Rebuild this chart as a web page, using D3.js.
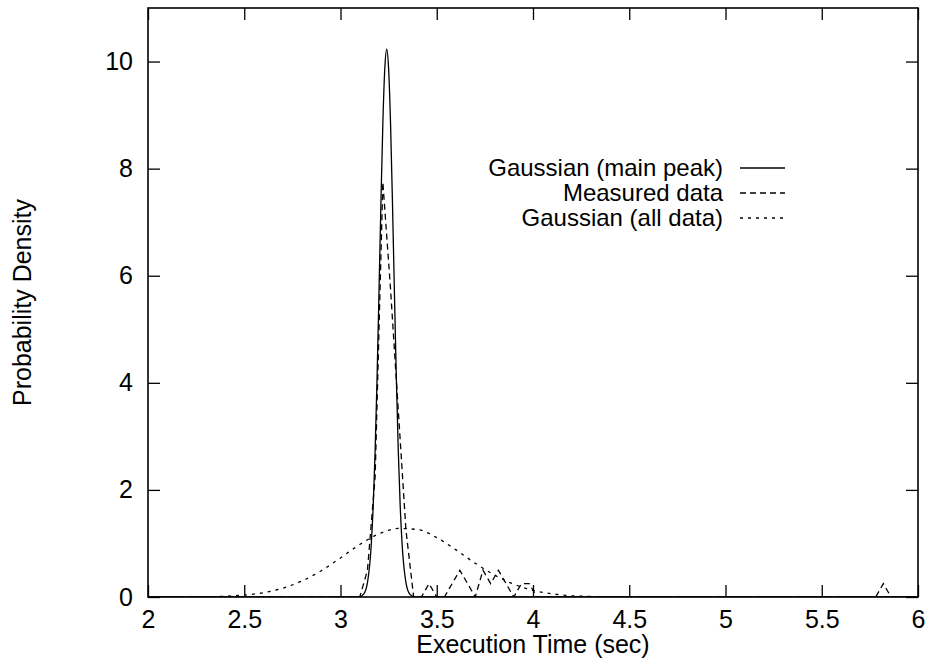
<!DOCTYPE html>
<html>
<head>
<meta charset="utf-8">
<script src="https://cdn.jsdelivr.net/npm/d3@7"></script>
<style>
  body { margin: 0; background: #fff; }
  text { font-family: "Liberation Sans", Arial, sans-serif; }
</style>
</head>
<body>
<div id="chart"></div>
<script>
// values
var xTicks = [2, 2.5, 3, 3.5, 4, 4.5, 5, 5.5, 6];
var yTicks = [0, 2, 4, 6, 8, 10];
var seriesNames = ["Gaussian (main peak)", "Measured data", "Gaussian (all data)"];

var mainPeakX = [2, 3.06, 3.08, 3.10, 3.12, 3.14, 3.16, 3.17, 3.18, 3.19, 3.20, 3.21, 3.22, 3.23, 3.24,
  3.25, 3.26, 3.27, 3.28, 3.29, 3.30, 3.31, 3.32, 3.34, 3.36, 3.38, 3.40, 3.42, 6];
var mainPeakY = [0, 0, 0.001, 0.008, 0.053, 0.27, 0.99, 1.71, 2.75, 4.1, 5.7, 7.36, 8.84, 9.86, 10.23,
  9.86, 8.84, 7.36, 5.7, 4.1, 2.75, 1.71, 0.99, 0.27, 0.053, 0.008, 0.001, 0, 0];

var measuredX = [2, 3.10, 3.14, 3.18, 3.22, 3.26, 3.30, 3.34, 3.38, 3.42, 3.46, 3.50, 3.54, 3.58, 3.62,
  3.66, 3.70, 3.74, 3.78, 3.82, 3.86, 3.90, 3.94, 3.98, 4.02, 5.78, 5.82, 5.86, 6];
var measuredY = [0, 0, 0.5, 2.25, 7.75, 5.75, 3.5, 1.25, 0, 0, 0.25, 0, 0, 0.25, 0.5,
  0.25, 0, 0.5, 0.25, 0.5, 0.25, 0, 0.25, 0.25, 0, 0, 0.25, 0, 0];

var allDataX = [2, 2.2, 2.4, 2.5, 2.6, 2.7, 2.8, 2.9, 3.0, 3.1, 3.2, 3.3, 3.4, 3.5, 3.6, 3.7, 3.8,
  3.9, 4.0, 4.1, 4.2, 4.3, 4.4, 4.6, 6];
var allDataY = [0.0001, 0.002, 0.014, 0.036, 0.081, 0.164, 0.30, 0.49, 0.73, 0.98, 1.18, 1.28, 1.26,
  1.11, 0.88, 0.63, 0.41, 0.24, 0.125, 0.059, 0.025, 0.009, 0.003, 0.0002, 0];

var svgWidth = 927,
  svgHeight = 660,
  plotLeft = 148,
  plotRight = 918,
  plotTop = 8,
  plotBottom = 597,
  tickLen = 12,
  fontSize = 25,
  legendFontSize = 24;

var svg = d3.select("#chart")
  .append("svg")
  .attr("width", svgWidth)
  .attr("height", svgHeight);

var x = d3.scaleLinear().domain([2, 6]).range([plotLeft, plotRight]);
var y = d3.scaleLinear().domain([0, 11]).range([plotBottom, plotTop]);

svg.append("clipPath")
  .attr("id", "plotClip")
  .append("rect")
  .attr("x", plotLeft)
  .attr("y", plotTop)
  .attr("width", plotRight - plotLeft)
  .attr("height", plotBottom - plotTop);

// axes, ticks point inwards on all four sides
var bottomAxis = svg.append("g")
  .attr("transform", "translate(0," + plotBottom + ")")
  .call(d3.axisBottom(x).tickValues(xTicks).tickSize(-tickLen).tickPadding(13).tickFormat(d3.format("")));
var leftAxis = svg.append("g")
  .attr("transform", "translate(" + plotLeft + ",0)")
  .call(d3.axisLeft(y).tickValues(yTicks).tickSize(-tickLen).tickPadding(15));
var topAxis = svg.append("g")
  .attr("transform", "translate(0," + plotTop + ")")
  .call(d3.axisTop(x).tickValues(xTicks).tickSize(-tickLen).tickFormat(""));
var rightAxis = svg.append("g")
  .attr("transform", "translate(" + plotRight + ",0)")
  .call(d3.axisRight(y).tickValues(yTicks).tickSize(-tickLen).tickFormat(""));

[bottomAxis, leftAxis, topAxis, rightAxis].forEach(function(a) {
  a.select(".domain").remove();
  a.selectAll(".tick line").attr("stroke", "#000").attr("stroke-width", 1.3);
  a.selectAll(".tick text")
    .attr("font-family", "Liberation Sans, Arial, sans-serif")
    .attr("font-size", fontSize + "px")
    .attr("fill", "#000");
});

svg.append("rect")
  .attr("x", plotLeft)
  .attr("y", plotTop)
  .attr("width", plotRight - plotLeft)
  .attr("height", plotBottom - plotTop)
  .attr("fill", "none")
  .attr("stroke", "#000")
  .attr("stroke-width", 1.6);

// series
var series = [
  { xs: mainPeakX, ys: mainPeakY, dash: null, curve: d3.curveMonotoneX },
  { xs: measuredX, ys: measuredY, dash: "6,4", curve: d3.curveLinear },
  { xs: allDataX, ys: allDataY, dash: "3,5", curve: d3.curveMonotoneX }
];

series.forEach(function(s) {
  var line = d3.line()
    .x(function(d, i) { return x(s.xs[i]); })
    .y(function(d, i) { return y(s.ys[i]); })
    .curve(s.curve);
  svg.append("path")
    .datum(s.xs)
    .attr("clip-path", "url(#plotClip)")
    .attr("d", line)
    .attr("fill", "none")
    .attr("stroke", "#000")
    .attr("stroke-width", 1.3)
    .attr("stroke-dasharray", s.dash);
});

// legend
var legendTextX = 723,
  legendLineX1 = 740,
  legendLineX2 = 785,
  legendTopY = 168,
  legendRowH = 25;

svg.selectAll("text.legendlabels")
  .data(seriesNames)
  .enter()
  .append("text")
  .attr("class", "legendlabels")
  .text(function(d) { return d; })
  .attr("x", legendTextX)
  .attr("y", function(d, i) { return legendTopY + i * legendRowH; })
  .attr("dy", "0.35em")
  .attr("font-size", legendFontSize + "px")
  .style("text-anchor", "end");

svg.selectAll("line.legendlines")
  .data(series)
  .enter()
  .append("line")
  .attr("x1", legendLineX1)
  .attr("x2", legendLineX2)
  .attr("y1", function(d, i) { return legendTopY + i * legendRowH; })
  .attr("y2", function(d, i) { return legendTopY + i * legendRowH; })
  .attr("stroke", "#000")
  .attr("stroke-width", 1.3)
  .attr("stroke-dasharray", function(d) { return d.dash; });

// axis titles
svg.append("text")
  .text("Execution Time (sec)")
  .attr("x", (plotLeft + plotRight) / 2)
  .attr("y", 653)
  .attr("font-size", fontSize + "px")
  .style("text-anchor", "middle");

svg.append("text")
  .text("Probability Density")
  .attr("transform", "translate(31," + ((plotTop + plotBottom) / 2) + ") rotate(-90)")
  .attr("font-size", fontSize + "px")
  .style("text-anchor", "middle");
</script>
</body>
</html>
